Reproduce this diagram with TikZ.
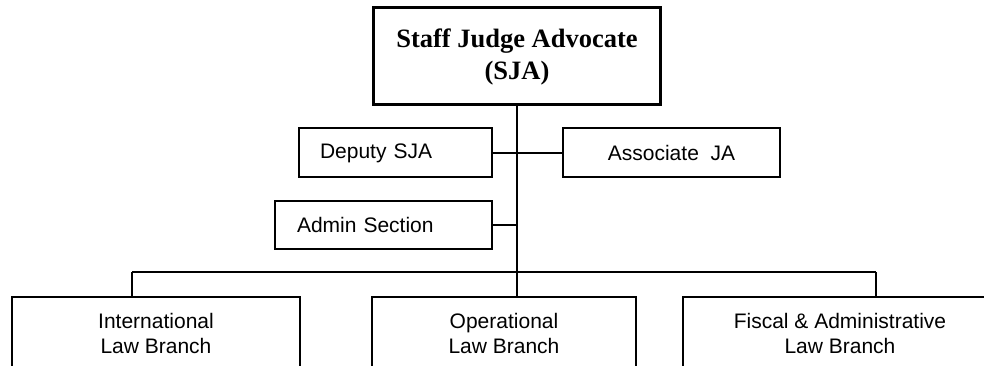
\documentclass[tikz,border=0pt]{standalone}
\usepackage{fontspec}
\setmainfont{Liberation Sans}
\newfontfamily\timesfont{Liberation Serif}
\begin{document}
\begin{tikzpicture}[x=1pt,y=-1pt,
  box/.style={draw, line width=2pt, rectangle, inner sep=0pt, font=\fontsize{21}{25}\selectfont},
  topbox/.style={draw, line width=3pt, rectangle, inner sep=0pt, align=center, font=\timesfont\bfseries\fontsize{26.5}{32}\selectfont},
  line/.style={line width=2pt}]
\useasboundingbox (0,0) rectangle (984,366);
\clip (0,0) rectangle (984,366);
\node[topbox, minimum width=287, minimum height=97] (sja) at (517,56.5) {Staff Judge Advocate\\(SJA)};
\node[box, minimum height=49, inner xsep=21, text width=151, align=left] (deputy) at (395.5,153) {Deputy SJA};
\node[box, minimum height=49, minimum width=217] (assoc) at (671.5,153) {Associate\ \ JA};
\node[box, minimum height=48, inner xsep=22, text width=173, align=left] (admin) at (383.5,225) {Admin Section};
\node[box, minimum height=72, minimum width=288, align=center] (intl) at (156,333) {International\\Law Branch};
\node[box, minimum height=72, minimum width=264, align=center] (oper) at (504,333) {Operational\\Law Branch};
\node[box, minimum height=72, minimum width=314, align=center] (fiscal) at (840,333) {Fiscal \& Administrative\\Law Branch};
\coordinate (barL) at (132,272);
\coordinate (barR) at (876,272);
\coordinate (barM) at (sja.south |- barL);
\draw[line] (sja.south) -- (barM);
\draw[line] (deputy.east) -- (assoc.west);
\draw[line] (admin.east) -- (admin.east -| sja.south);
\draw[line] (barL) -- (barR);
\draw[line] (barL) -- (barL |- intl.north);
\draw[line] (barM) -- (barM |- oper.north);
\draw[line] (barR) -- (barR |- fiscal.north);
\end{tikzpicture}
\end{document}
